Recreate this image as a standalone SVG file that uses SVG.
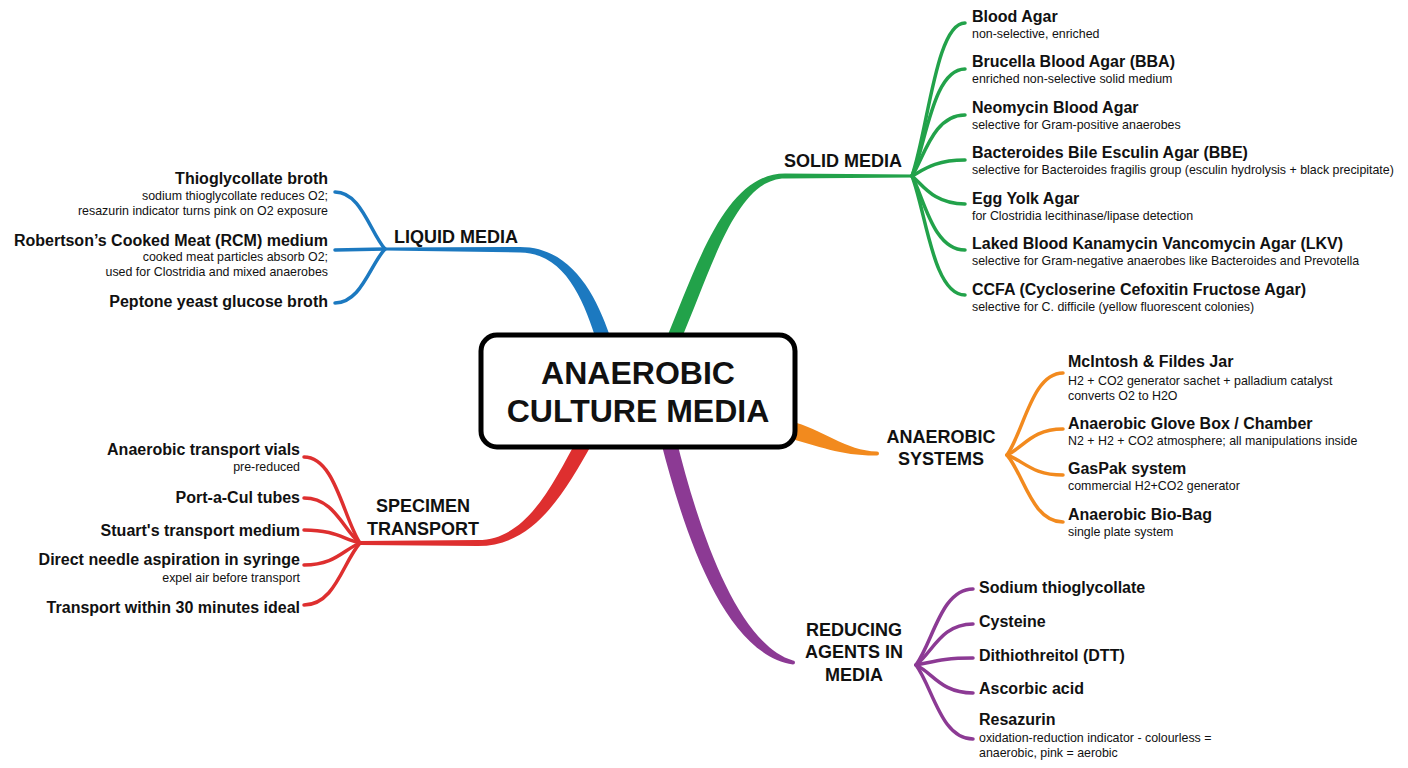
<svg xmlns="http://www.w3.org/2000/svg" width="1408" height="768" viewBox="0 0 1408 768">
<style>
text{font-family:"Liberation Sans",Arial,sans-serif;fill:#111}
.t{font-size:16px;font-weight:bold}
.s{font-size:12.4px}
.h{font-size:18px;font-weight:bold;text-anchor:middle}
.c{font-size:32px;font-weight:bold;text-anchor:middle}
.e{text-anchor:end}
.k{fill:none;stroke-width:3.5;stroke-linecap:round}
.g{stroke:#22a24a}.gf{fill:#22a24a}
.b{stroke:#1c79c0}.bf{fill:#1c79c0}
.r{stroke:#de2f2f}.rf{fill:#de2f2f}
.o{stroke:#f28a1e}.of{fill:#f28a1e}
.p{stroke:#8c3a94}.pf{fill:#8c3a94}
</style>
<rect width="1408" height="768" fill="#fff"/>
<g id="connectors">
  <!-- main branches -->
  <path class="gf" d="M665,342 C698,262 726,173.5 785,173.5 L912,174.5 L912,177.5 L785,178.5 C736,178.5 712,268 680,342 Z"/>
  <path class="bf" d="M612,342 C597,296 572,247 520,247 L385,247.5 L385,250.5 L520,252.5 C566,253 584,302 597,342 Z"/>
  <path class="rf" d="M593,442 C564,494 534,546 478,546 L360,545 L360,541 L478,540 C526,540 552,486 579,436 Z"/>
  <path class="pf" d="M676,438 C698,528 737,644 793,660.5 A2,2 0 0 1 793,664.5 C724,654 684,532 661,442 Z"/>
  <path class="of" d="M790,421 C822,429 846,451 877,451.5 A2,2 0 0 1 877,455.5 C842,456 818,446 788,438 Z"/>
  <!-- solid children: hub 912,176 -->
  <path class="k g" d="M912,176 C928,130 936,23 965,23"/>
  <path class="k g" d="M912,176 C926,144 933,69 965,69"/>
  <path class="k g" d="M912,176 C924,158 933,115 965,115"/>
  <path class="k g" d="M912,176 C922,171 933,160 965,160"/>
  <path class="k g" d="M912,176 C922,184 933,204 965,204"/>
  <path class="k g" d="M912,176 C924,198 933,250 965,250"/>
  <path class="k g" d="M912,176 C926,212 933,295 965,295"/>
  <!-- liquid children: hub 385,249 -->
  <path class="k b" d="M385,249 C370,232 361,192 335,192"/>
  <path class="k b" d="M385,249 L335,250"/>
  <path class="k b" d="M385,249 C370,265 361,303 335,303"/>
  <!-- systems children: hub 1007,455 -->
  <path class="k o" d="M1007,455 C1024,431 1032,373 1063,373"/>
  <path class="k o" d="M1007,455 C1024,447 1032,429 1063,429"/>
  <path class="k o" d="M1007,455 C1024,461 1032,475 1063,475"/>
  <path class="k o" d="M1007,455 C1024,475 1032,522 1063,522"/>
  <!-- specimen children: hub 360,543 -->
  <path class="k r" d="M360,543 C343,517 335,457 304,457"/>
  <path class="k r" d="M360,543 C343,530 335,498 304,498"/>
  <path class="k r" d="M360,543 C343,539 335,530 304,530"/>
  <path class="k r" d="M360,543 C343,550 335,565 304,565"/>
  <path class="k r" d="M360,543 C343,562 335,605 304,605"/>
  <!-- reducing children: hub 916,665 -->
  <path class="k p" d="M916,665 C933,642 941,589 973,589"/>
  <path class="k p" d="M916,665 C933,652 941,624 973,624"/>
  <path class="k p" d="M916,665 C933,662 941,658 973,658"/>
  <path class="k p" d="M916,665 C933,673 941,693 973,693"/>
  <path class="k p" d="M916,665 C933,688 941,739 973,739"/>
</g>
<g id="center">
  <rect x="481" y="335" width="314" height="112" rx="16" fill="#fff" stroke="#000" stroke-width="5"/>
  <text class="c" x="638" y="384">ANAEROBIC</text>
  <text class="c" x="638" y="422">CULTURE MEDIA</text>
</g>
<g id="solid-media">
  <text class="h" x="843" y="166.5">SOLID MEDIA</text>
</g>
<g id="solid-children">
  <g id="blood-agar"><text class="t" x="972" y="22">Blood Agar</text><text class="s" x="972" y="37.5">non-selective, enriched</text></g>
  <g id="bba"><text class="t" x="972" y="67">Brucella Blood Agar (BBA)</text><text class="s" x="972" y="83">enriched non-selective solid medium</text></g>
  <g id="neomycin"><text class="t" x="972" y="113">Neomycin Blood Agar</text><text class="s" x="972" y="128.5">selective for Gram-positive anaerobes</text></g>
  <g id="bbe"><text class="t" x="972" y="158">Bacteroides Bile Esculin Agar (BBE)</text><text class="s" x="972" y="174">selective for Bacteroides fragilis group (esculin hydrolysis + black precipitate)</text></g>
  <g id="egg-yolk"><text class="t" x="972" y="204">Egg Yolk Agar</text><text class="s" x="972" y="219.5">for Clostridia lecithinase/lipase detection</text></g>
  <g id="lkv"><text class="t" x="972" y="249">Laked Blood Kanamycin Vancomycin Agar (LKV)</text><text class="s" x="972" y="265">selective for Gram-negative anaerobes like Bacteroides and Prevotella</text></g>
  <g id="ccfa"><text class="t" x="972" y="295">CCFA (Cycloserine Cefoxitin Fructose Agar)</text><text class="s" x="972" y="310.5">selective for C. difficile (yellow fluorescent colonies)</text></g>
</g>
<g id="liquid-media">
  <text class="h" x="456" y="242.5">LIQUID MEDIA</text>
</g>
<g id="liquid-children">
  <g id="thio-broth"><text class="t e" x="328" y="184">Thioglycollate broth</text><text class="s e" x="328" y="199.5">sodium thioglycollate reduces O2;</text><text class="s e" x="328" y="215">resazurin indicator turns pink on O2 exposure</text></g>
  <g id="rcm"><text class="t e" x="328" y="246">Robertson’s Cooked Meat (RCM) medium</text><text class="s e" x="328" y="260.5">cooked meat particles absorb O2;</text><text class="s e" x="328" y="275.5">used for Clostridia and mixed anaerobes</text></g>
  <g id="pyg"><text class="t e" x="328" y="307">Peptone yeast glucose broth</text></g>
</g>
<g id="anaerobic-systems">
  <text class="h" x="941" y="442.5">ANAEROBIC</text>
  <text class="h" x="941" y="464.5">SYSTEMS</text>
</g>
<g id="systems-children">
  <g id="mcintosh"><text class="t" x="1068" y="367">McIntosh &amp; Fildes Jar</text><text class="s" x="1068" y="384.5">H2 + CO2 generator sachet + palladium catalyst</text><text class="s" x="1068" y="399.5">converts O2 to H2O</text></g>
  <g id="glove-box"><text class="t" x="1068" y="429">Anaerobic Glove Box / Chamber</text><text class="s" x="1068" y="444.5">N2 + H2 + CO2 atmosphere; all manipulations inside</text></g>
  <g id="gaspak"><text class="t" x="1068" y="474">GasPak system</text><text class="s" x="1068" y="490">commercial H2+CO2 generator</text></g>
  <g id="bio-bag"><text class="t" x="1068" y="520">Anaerobic Bio-Bag</text><text class="s" x="1068" y="536">single plate system</text></g>
</g>
<g id="specimen-transport">
  <text class="h" x="423" y="511.5">SPECIMEN</text>
  <text class="h" x="423" y="534.5">TRANSPORT</text>
</g>
<g id="specimen-children">
  <g id="vials"><text class="t e" x="300" y="455">Anaerobic transport vials</text><text class="s e" x="300" y="470.5">pre-reduced</text></g>
  <g id="port-a-cul"><text class="t e" x="300" y="503">Port-a-Cul tubes</text></g>
  <g id="stuart"><text class="t e" x="300" y="536">Stuart's transport medium</text></g>
  <g id="needle"><text class="t e" x="300" y="565">Direct needle aspiration in syringe</text><text class="s e" x="300" y="581.5">expel air before transport</text></g>
  <g id="within-30"><text class="t e" x="300" y="613">Transport within 30 minutes ideal</text></g>
</g>
<g id="reducing-agents">
  <text class="h" x="854" y="635.5">REDUCING</text>
  <text class="h" x="854" y="657.5">AGENTS IN</text>
  <text class="h" x="854" y="680.5">MEDIA</text>
</g>
<g id="reducing-children">
  <g id="sodium-thio"><text class="t" x="979" y="593">Sodium thioglycollate</text></g>
  <g id="cysteine"><text class="t" x="979" y="627">Cysteine</text></g>
  <g id="dtt"><text class="t" x="979" y="661">Dithiothreitol (DTT)</text></g>
  <g id="ascorbic"><text class="t" x="979" y="694">Ascorbic acid</text></g>
  <g id="resazurin"><text class="t" x="979" y="725">Resazurin</text><text class="s" x="979" y="742">oxidation-reduction indicator - colourless =</text><text class="s" x="979" y="757">anaerobic, pink = aerobic</text></g>
</g>
</svg>
